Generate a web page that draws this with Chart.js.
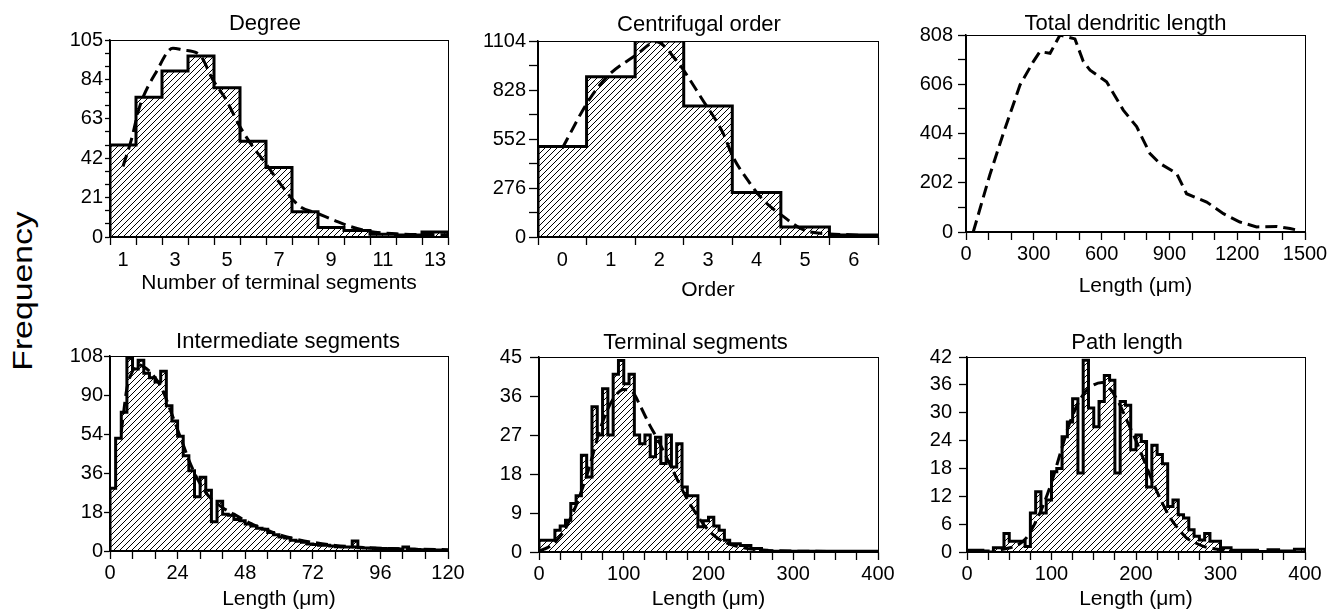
<!DOCTYPE html>
<html><head><meta charset="utf-8">
<script src="https://cdn.jsdelivr.net/npm/chart.js@4.4.0/dist/chart.umd.min.js"></script>
<style>
html,body{margin:0;padding:0;background:#fff;overflow:hidden;width:1343px;height:615px;position:relative;}
canvas{position:absolute;}
#freq{position:absolute;left:23px;top:291px;transform:translate(-50%,-50%) rotate(-90deg) scaleX(1.25);font-family:'Liberation Sans',Arial,sans-serif;font-size:27px;line-height:1;white-space:nowrap;color:#000;}
</style></head><body>
<div id="freq">Frequency</div>
<canvas id="c1"></canvas><canvas id="c2"></canvas><canvas id="c3"></canvas>
<canvas id="c4"></canvas><canvas id="c5"></canvas><canvas id="c6"></canvas>
<script>
// ---------- DATA ----------
// Degree
const degreeBins = [1,2,3,4,5,6,7,8,9,10,11,12,13];
const degreeCounts = [49,74.5,88.5,96.5,79.5,51,37,13.5,5,3.5,1.5,1,2.7];
const degreeFitX = [1,1.32,1.64,2.28,2.92,3.3,3.95,4.46,4.97,5.49,6,6.5,7.03,7.8,8.44,9.08,9.72,10.5,11.64,13.5];
const degreeFitY = [37.6,51.8,69.5,88,100.6,99.7,97,83.7,73,59,48,39,28.7,16.3,12.8,9.2,5.7,3,1.6,1.2];
const degreeXLabels = [1,3,5,7,9,11,13];
const degreeYLabels = [0,21,42,63,84,105];

// Centrifugal order
const orderBins = [0,1,2,3,4,5,6];
const orderCounts = [510,903,1104,738,251,56,11];
const orderFitX = [0,0.55,0.96,1.52,1.93,2.34,2.89,3.31,3.51,3.86,4.13,4.55,4.96,5.51,5.92,6.49];
const orderFitY = [500,772,913,1025,1100,997,772,585,454,304,210,116,41,17,13,4];
const orderXLabels = [0,1,2,3,4,5,6];
const orderYLabels = [0,276,552,828,1104];

// Total dendritic length
const totalX = [32,106,165,239,298,327,372,416,482,519,549,622,696,755,814,858,932,976,1065,1139,1212,1286,1375,1434,1470];
const totalY = [0,236,404,603,699,740,733,808,792,699,664,616,500,432,322,281,240,157,123,75,41,21,23,14,7];
const totalXLabels = [0,300,600,900,1200,1500];
const totalYLabels = [0,202,404,606,808];

// Intermediate segments (2 µm bins from 0)
const interBinStart = 0, interBinWidth = 2;
const interCounts = [29,52,64,89,84,88,82,80,78,83,67,60,53,44,37,25,34,28,13.5,23,
  17,16.5,14.5,14,12.5,11.5,10.5,10,8.5,7.5,6.5,6,5,4.5,4,3.2,3,2.7,2.6,2.3,
  2,1.9,1.8,4.6,1.5,1.4,1.3,1.2,1.1,1.0,1.0,0.9,1.9,0.8,0.7,0.6,0.6,0.5,0.5,0.4];
const interFitX = [4,6,8,10,12,14,16,18,20,22,24,26,28,30,32,34,36,40,44,48,52,56,60,66,72,80,90,100,110,120];
const interFitY = [55,75,83,86,85,83,80,76,70,63,56,49,42,36,31,27,24,20,17,14,11.5,9.5,7.5,5.5,4,2.6,1.6,1.1,0.8,0.6];
const interXLabels = [0,24,48,72,96,120];
const interYLabels = ['0','18','36','54','90','108'];

// Terminal segments (6.25 µm bins from 0)
const termBinStart = 0, termBinWidth = 6.25;
const termCounts = [2.7,2.7,2.7,5,6,7.3,11.2,13,22.3,17.3,33.5,27,37.7,27,41,44.2,38.8,41,27,25,
  27,22,26.5,20.4,27,19.6,25,15,13,13,5.8,7.2,8,6,5,2.7,1.9,1.9,1.5,1.5,
  0.8,0.8,0.4,0.2,0.2,0.2,0.2,0.2,0.2,0.2,0.2,0.2,0.2,0.2,0.2,0.2,0.2,0.2,0.2,0.2,0.2,0.2,0.2,0.2];
const termFitX = [0,10,20,30,40,50,60,70,80,90,100,110,120,130,140,150,160,170,180,190,200,210,220,240,260,300,400];
const termFitY = [0.3,1,2.5,5,9,14,20,27,32.5,36,37.5,37,33.5,29.5,26,22,18,14,10.5,7.5,5,3.3,2.2,1,0.5,0.2,0.1];
const termXLabels = [0,100,200,300,400];
const termYLabels = [0,9,18,27,36,45];

// Path length (6.25 µm bins from 0)
const pathBinStart = 0, pathBinWidth = 6.25;
const pathCounts = [0.4,0.4,0.4,0.2,0,0.9,0.9,4,2.3,2.3,2.3,1.2,8.4,13,8.4,11.2,17.3,18,24.8,28,
  33,17,41.3,31,27,32.4,38,37,17,32.4,31.6,22,25.2,23.8,14,23,21,19,9.8,11.2,
  8,7.3,4.8,3.4,2.6,4,2.3,2.3,0.9,0.9,0.4,0.4,0.4,0.4,0.4,0.1,0.1,0.5,0.5,0.2,0.2,0.2,0.6,0.6];
const pathFitX = [40,60,70,80,90,100,110,120,130,140,150,160,170,180,190,200,210,220,230,240,250,260,270,280,300,320];
const pathFitY = [0.5,1.5,3,6,10,15,21,27,31.5,34.5,36,36.5,35,32,28,24,19.5,15,11,7.5,5,3,2,1.2,0.5,0.2];
const pathXLabels = [0,100,200,300,400];
const pathYLabels = [0,6,12,18,24,30,36,42];

// ---------- RENDERING ----------
const FONT = "'Liberation Sans', Arial, Helvetica, sans-serif";
function range(a,b,s){const o=[];for(let i=0;a+i*s<=b+1e-9;i++)o.push(Math.round((a+i*s)*1000)/1000);return o;}
function near(list,v){return list.findIndex(x=>Math.abs(+x-v)<1e-6);}
function histFrom(start,width,counts){
  const pts=[{x:start,y:0}];
  const n=counts.length;
  counts.forEach((c,i)=>pts.push({x:start+i*width,y:c}));
  pts.push({x:start+n*width,y:counts[n-1]});
  pts.push({x:start+n*width,y:0});
  return pts;
}
function histCentered(centers,counts){const w=centers[1]-centers[0];return histFrom(centers[0]-w/2,w,counts);}
function xy(xs,ys){return xs.map((x,i)=>({x:x,y:ys[i]}));}

function hatchFor(ctx){
  const t=document.createElement('canvas');t.width=6;t.height=6;
  const g=t.getContext('2d');g.strokeStyle='#000';g.lineWidth=1;
  g.beginPath();g.moveTo(0,6);g.lineTo(6,0);g.moveTo(-1,1);g.lineTo(1,-1);g.moveTo(5,7);g.lineTo(7,5);g.stroke();
  return ctx.createPattern(t,'repeat');
}

function makePanel(p){
  const cv=document.getElementById(p.id);
  const W=p.YW+(p.R-p.L)+p.PR, H=p.TP+(p.B-p.T)+p.XH;
  cv.width=W;cv.height=H;
  cv.style.left=(p.L-p.YW)+'px';cv.style.top=(p.T-p.TP)+'px';
  cv.style.width=W+'px';cv.style.height=H+'px';
  const ctx=cv.getContext('2d');
  const datasets=[];
  if(p.hist){
    datasets.push({data:p.hist,stepped:'before',borderColor:'#000',borderWidth:3,backgroundColor:hatchFor(ctx),
      fill:'origin',pointRadius:0,order:1,borderJoinStyle:'miter'});
  }
  datasets.push({data:p.fit,borderColor:'#000',borderWidth:3,borderDash:[12,6],fill:false,pointRadius:0,order:0,
    cubicInterpolationMode:p.smooth?'monotone':'default',tension:0});
  let xt=range(p.xMin,p.xMax,p.xStep);
  const edgeVals=xt.slice();
  if(p.xCenterLabels){xt=xt.concat(p.xLabels).sort((a,b)=>a-b);}
  const yt=range(p.yMin,p.yMax,p.yStep);
  const boxPlugin={id:'box'+p.id,beforeDatasetsDraw(ch){const a=ch.chartArea,c=ch.ctx;c.save();c.strokeStyle='#000';c.lineWidth=1;
    c.strokeRect(Math.round(a.left)+0.5,Math.round(a.top)+0.5,Math.round(a.right-a.left),Math.round(a.bottom-a.top));c.restore();}};
  const titlePlugin={id:'title'+p.id,afterDraw(ch){const a=ch.chartArea,c=ch.ctx;c.save();c.font='22px '+FONT;c.fillStyle='#000';
    c.textAlign='center';c.textBaseline='alphabetic';c.fillText(p.title,(a.left+a.right)/2+p.tdx,a.top-p.tdy);c.restore();}};
  new Chart(cv,{type:'line',data:{datasets:datasets},
    options:{responsive:false,animation:false,events:[],
      layout:{padding:{left:0,top:p.TP,right:p.PR,bottom:0}},
      plugins:{legend:{display:false},tooltip:{enabled:false},title:{display:false}},
      scales:{
        x:{type:'linear',min:p.xMin,max:p.xMax,
          afterBuildTicks:s=>{s.ticks=xt.map(v=>({value:v}));},
          afterFit:s=>{s.height=p.XH;s.paddingLeft=0;s.paddingRight=0;s.paddingTop=0;s.paddingBottom=0;},
          ticks:{autoSkip:false,maxRotation:0,minRotation:0,padding:p.xPad,color:'#000',font:{family:FONT,size:20},
            callback:v=>{const i=near(p.xLabels,v);return i>=0?String(p.xLabels[i]):'';}},
          grid:{drawOnChartArea:false,drawTicks:true,tickLength:8,tickWidth:1.3,color:'#000',
            tickColor:c=>{if(!c.tick)return '#000';return near(edgeVals,c.tick.value)>=0?'#000':'rgba(0,0,0,0)';}},
          border:{display:true,color:'#000',width:1.5},
          title:{display:true,text:p.xTitle,color:'#000',font:{family:FONT,size:21,lineHeight:'26px'},padding:0}},
        y:{type:'linear',min:p.yMin,max:p.yMax,
          afterBuildTicks:s=>{s.ticks=yt.map(v=>({value:v}));},
          afterFit:s=>{s.width=p.YW;s.paddingTop=0;s.paddingBottom=0;s.paddingLeft=0;s.paddingRight=0;},
          ticks:{autoSkip:false,padding:p.yPad,color:'#000',font:{family:FONT,size:20},
            callback:(v,idx)=>{if(p.yIndexLabels)return p.yIndexLabels[idx];const i=near(p.yLabels,v);return i>=0?String(p.yLabels[i]):'';}},
          grid:{drawOnChartArea:false,drawTicks:true,tickLength:p.yTL,tickWidth:1.3,color:'#000',tickColor:'#000'},
          border:{display:true,color:'#000',width:1.5}}
      }},
    plugins:[boxPlugin,titlePlugin]});
}

makePanel({id:'c1',L:110,T:40,R:448,B:237,YW:60,PR:30,TP:30,XH:59,title:'Degree',tdx:-14,tdy:10,
  xTitle:'Number of terminal segments',xPad:3,yTL:5,yPad:2,
  xMin:0.5,xMax:13.5,xStep:1,xLabels:degreeXLabels,xCenterLabels:true,
  yMin:0,yMax:105,yStep:7,yLabels:degreeYLabels,
  hist:histCentered(degreeBins,degreeCounts),fit:xy(degreeFitX,degreeFitY),smooth:true});
makePanel({id:'c2',L:538,T:41,R:878,B:237,YW:60,PR:30,TP:30,XH:66,title:'Centrifugal order',tdx:-9,tdy:10,
  xTitle:'Order',xPad:3,yTL:9,yPad:3,
  xMin:-0.5,xMax:6.5,xStep:1,xLabels:orderXLabels,xCenterLabels:true,
  yMin:0,yMax:1104,yStep:138,yLabels:orderYLabels,
  hist:histCentered(orderBins,orderCounts),fit:xy(orderFitX,orderFitY),smooth:true});
makePanel({id:'c3',L:966,T:35,R:1305,B:232,YW:60,PR:30,TP:30,XH:67,title:'Total dendritic length',tdx:-10,tdy:5,
  xTitle:'Length (\u03bcm)',xPad:2,yTL:8,yPad:5,
  xMin:0,xMax:1500,xStep:100,xLabels:totalXLabels,
  yMin:0,yMax:808,yStep:101,yLabels:totalYLabels,
  hist:null,fit:xy(totalX,totalY),smooth:false});
makePanel({id:'c4',L:110,T:356,R:448,B:551,YW:60,PR:30,TP:30,XH:61,title:'Intermediate segments',tdx:9,tdy:8,
  xTitle:'Length (\u03bcm)',xPad:2,yTL:6,yPad:1,
  xMin:0,xMax:120,xStep:8,xLabels:interXLabels,
  yMin:0,yMax:90,yStep:18,yIndexLabels:interYLabels,
  hist:histFrom(interBinStart,interBinWidth,interCounts),fit:xy(interFitX,interFitY),smooth:true});
makePanel({id:'c5',L:539,T:357,R:878,B:552,YW:60,PR:30,TP:30,XH:60,title:'Terminal segments',tdx:-13,tdy:8,
  xTitle:'Length (\u03bcm)',xPad:2,yTL:9,yPad:8,
  xMin:0,xMax:400,xStep:25,xLabels:termXLabels,
  yMin:0,yMax:45,yStep:9,yLabels:termYLabels,
  hist:histFrom(termBinStart,termBinWidth,termCounts),fit:xy(termFitX,termFitY),smooth:true});
makePanel({id:'c6',L:967,T:357,R:1305,B:552,YW:60,PR:30,TP:30,XH:60,title:'Path length',tdx:-9,tdy:8,
  xTitle:'Length (\u03bcm)',xPad:2,yTL:8,yPad:7,
  xMin:0,xMax:400,xStep:25,xLabels:pathXLabels,
  yMin:0,yMax:42,yStep:6,yLabels:pathYLabels,
  hist:histFrom(pathBinStart,pathBinWidth,pathCounts),fit:xy(pathFitX,pathFitY),smooth:true});
</script>
</body></html>
